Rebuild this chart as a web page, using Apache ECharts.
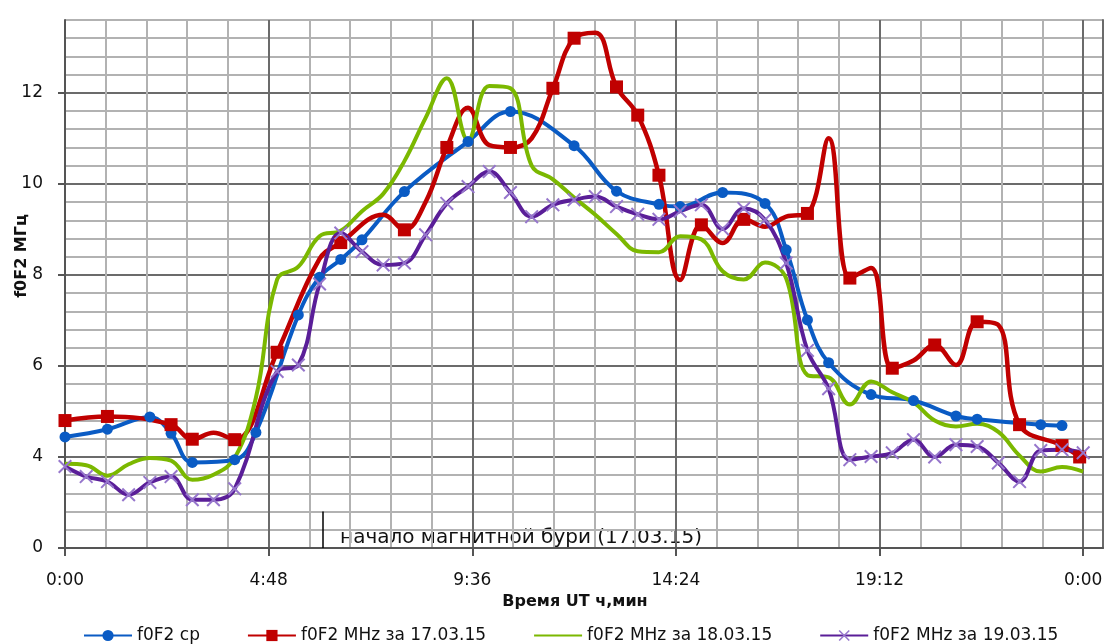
<!DOCTYPE html>
<html>
<head>
<meta charset="utf-8">
<script src="https://cdn.jsdelivr.net/npm/echarts@6/dist/echarts.min.js"></script>
<style>
html, body { margin: 0; padding: 0; background: #fff; }
#chart { width: 1108px; height: 644px; }
</style>
</head>
<body>
<div id="chart"></div>
<script>
// time is in minutes UT, values are f0F2 in MHz
var avgTime = [0, 60, 120, 150, 180, 240, 270, 330, 360, 390, 420, 480, 570, 630, 720, 780, 840, 870, 930, 990, 1020, 1050, 1080, 1140, 1200, 1260, 1290, 1380, 1410];
var avgVal  = [4.44, 4.61, 4.88, 4.52, 3.88, 3.94, 4.54, 7.12, 7.95, 8.34, 8.77, 9.83, 10.93, 11.59, 10.84, 9.84, 9.55, 9.50, 9.81, 9.57, 8.55, 7.01, 6.07, 5.37, 5.24, 4.90, 4.83, 4.71, 4.69];

var d17Time = [0, 60, 150, 180, 210, 240, 300, 360, 390, 450, 480, 510, 540, 570, 600, 630, 660, 690, 720, 750, 780, 810, 840, 870, 900, 930, 960, 990, 1020, 1050, 1080, 1110, 1140, 1170, 1200, 1230, 1260, 1290, 1320, 1350, 1410, 1435];
var d17Val  = [4.80, 4.89, 4.71, 4.39, 4.53, 4.38, 6.30, 8.35, 8.71, 9.32, 8.99, 9.60, 10.80, 11.67, 10.85, 10.80, 11.00, 12.10, 13.20, 13.32, 12.13, 11.51, 10.19, 7.89, 9.10, 8.70, 9.22, 9.06, 9.28, 9.35, 11.00, 7.93, 8.15, 5.95, 6.12, 6.46, 6.02, 6.97, 6.90, 4.71, 4.25, 4.00];
// points of 17.03 that have no marker in the picture
var d17NoMark = [210, 360, 450, 510, 570, 600, 660, 750, 870, 930, 990, 1020, 1080, 1140, 1200, 1260, 1320];

var d18Time = [0, 30, 60, 90, 120, 150, 180, 210, 240, 270, 300, 330, 360, 390, 420, 450, 480, 510, 540, 570, 600, 630, 660, 690, 720, 750, 780, 810, 840, 870, 900, 930, 960, 990, 1020, 1050, 1080, 1110, 1140, 1170, 1200, 1230, 1260, 1290, 1320, 1350, 1380, 1410, 1440];
var d18Val  = [3.85, 3.82, 3.59, 3.84, 3.98, 3.92, 3.50, 3.61, 3.98, 5.30, 7.90, 8.18, 8.85, 8.97, 9.40, 9.78, 10.50, 11.45, 12.32, 10.96, 12.15, 12.10, 10.40, 10.10, 9.70, 9.32, 8.90, 8.52, 8.50, 8.85, 8.78, 8.08, 7.90, 8.27, 7.92, 5.80, 5.75, 5.15, 5.66, 5.42, 5.20, 4.80, 4.67, 4.73, 4.55, 4.03, 3.68, 3.78, 3.68];

var d19Time = [0, 30, 60, 90, 120, 150, 180, 210, 240, 300, 330, 360, 390, 420, 450, 480, 510, 540, 570, 600, 630, 660, 690, 720, 750, 780, 810, 840, 870, 900, 930, 960, 990, 1020, 1050, 1080, 1110, 1140, 1170, 1200, 1230, 1260, 1290, 1320, 1350, 1380, 1410, 1440];
var d19Val  = [3.79, 3.57, 3.46, 3.17, 3.44, 3.57, 3.06, 3.06, 3.30, 5.88, 6.02, 7.80, 8.92, 8.51, 8.22, 8.26, 8.88, 9.57, 9.94, 10.27, 9.81, 9.28, 9.54, 9.65, 9.72, 9.50, 9.33, 9.22, 9.40, 9.54, 9.01, 9.46, 9.21, 8.26, 6.34, 5.50, 3.94, 4.01, 4.09, 4.38, 4.00, 4.27, 4.23, 3.87, 3.46, 4.14, 4.16, 4.09];

var names = ['f0F2 ср', 'f0F2 MHz за 17.03.15', 'f0F2 MHz за 18.03.15', 'f0F2 MHz за 19.03.15'];

// labelled ticks
var xTicks = [0, 288, 576, 864, 1152, 1440];
var yTicks = [2, 4, 6, 8, 10, 12];

var stormTime = 365;   // start of magnetic storm marker
var noteText = 'начало магнитной бури (17.03.15)';
var noteAt = [389, 2.22];

var xMax = 1468, yMin = 2, yMax = 13.6;
var major = '#6b6b6b', minor = '#b2b2b2', axisCol = '#555';
var font = '"DejaVu Sans", sans-serif';

function pairs(ts, vs) {
    return ts.map(function (t, i) { return [t, vs[i]]; });
}
function hm(v) {
    var m = Math.round(v) % 1440;
    var mm = m % 60;
    return Math.floor(m / 60) + ':' + (mm < 10 ? '0' : '') + mm;
}
function isTick(list, v) {
    return list.some(function (t) { return Math.abs(t - v) < 1e-6; });
}

var chart = echarts.init(document.getElementById('chart'), null, { renderer: 'canvas' });

var option = {
    animation: false,
    backgroundColor: '#fff',
    grid: { left: 65, right: 5, top: 20, bottom: 96, outerBoundsMode: 'none' },
    legend: {
        left: 78, top: 622,
        itemWidth: 48, itemHeight: 14, itemGap: 47,
        textStyle: { fontFamily: font, fontSize: 17, color: '#111' },
        data: [
            { name: names[0] },
            { name: names[1] },
            { name: names[2], itemStyle: { opacity: 0 } },
            { name: names[3] }
        ]
    },
    xAxis: [
        {   // grid lines every 57.6 min
            type: 'value', position: 'bottom', min: 0, max: xMax, interval: 57.6,
            axisLabel: { show: false }, axisTick: { show: false },
            axisLine: { show: true, onZero: false, lineStyle: { color: axisCol, width: 2 } },
            splitLine: { show: true, showMaxLine: false, lineStyle: { color: [major, minor, minor, minor, minor], width: 2 } }
        },
        {   // labels and ticks
            type: 'value', position: 'bottom', min: 0, max: xMax, interval: 288,
            axisLine: { show: false, onZero: false }, splitLine: { show: false },
            axisTick: { show: true, length: 8, customValues: xTicks, lineStyle: { color: axisCol, width: 2 } },
            axisLabel: {
                margin: 24, color: '#111', fontFamily: font, fontSize: 17, customValues: xTicks,
                formatter: function (v) { return isTick(xTicks, v) ? hm(v) : ''; }
            },
            name: 'Время UT ч,мин', nameLocation: 'middle', nameGap: 44,
            nameTextStyle: { fontFamily: font, fontSize: 16, fontWeight: 'bold', color: '#111', padding: [0, 18, 0, 0] }
        }
    ],
    yAxis: [
        {   // grid lines every 0.4
            type: 'value', position: 'left', min: yMin, max: yMax, interval: 0.4,
            axisLabel: { show: false }, axisTick: { show: false },
            axisLine: { show: true, lineStyle: { color: axisCol, width: 2 } },
            splitLine: { show: true, lineStyle: { color: [major, minor, minor, minor, minor], width: 2 } }
        },
        {   // labels and ticks
            type: 'value', position: 'left', min: yMin, max: yMax, interval: 2,
            axisLine: { show: false }, splitLine: { show: false },
            axisTick: { show: true, length: 7, customValues: yTicks, lineStyle: { color: axisCol, width: 2 } },
            axisLabel: {
                margin: 22, color: '#111', fontFamily: font, fontSize: 17, customValues: yTicks,
                formatter: function (v) {
                    if (!isTick(yTicks, v)) return '';
                    return v === yMin ? '0' : String(Math.round(v));
                }
            }
        },
        {   // right edge of the plot
            type: 'value', position: 'right', min: yMin, max: yMax,
            axisLine: { show: true, lineStyle: { color: major, width: 2 } },
            axisLabel: { show: false }, axisTick: { show: false }, splitLine: { show: false }
        }
    ],
    series: [
        {
            name: names[0], type: 'line', smooth: 0.4,
            data: pairs(avgTime, avgVal),
            symbol: 'circle', symbolSize: 11,
            lineStyle: { width: 4, color: '#0a5bc4' },
            itemStyle: { color: '#0a5bc4' },
            markLine: {
                silent: true, symbol: ['none', 'none'], label: { show: false },
                lineStyle: { color: '#000', width: 1.5, type: 'solid' },
                data: [[{ coord: [stormTime, yMin] }, { coord: [stormTime, 2.8] }]]
            }
        },
        {
            name: names[1], type: 'line', smooth: 0.4,
            data: d17Time.map(function (t, i) {
                var item = { value: [t, d17Val[i]] };
                if (d17NoMark.indexOf(t) >= 0) item.symbol = 'none';
                return item;
            }),
            symbol: 'rect', symbolSize: 13,
            lineStyle: { width: 4.5, color: '#c00000' },
            itemStyle: { color: '#c00000' }
        },
        {
            name: names[2], type: 'line', smooth: 0.4,
            data: pairs(d18Time, d18Val),
            symbol: 'none',
            lineStyle: { width: 4, color: '#7bb800' },
            itemStyle: { color: '#7bb800' }
        },
        {
            name: names[3], type: 'line', smooth: 0.4,
            data: pairs(d19Time, d19Val),
            symbol: 'path://M0,1L1,0L5,4L9,0L10,1L6,5L10,9L9,10L5,6L1,10L0,9L4,5Z',
            symbolSize: 14,
            lineStyle: { width: 4, color: '#5a1e98' },
            itemStyle: { color: '#9676cc' }
        }
    ],
    graphic: [
        {
            type: 'text', x: 22, y: 256, rotation: Math.PI / 2,
            style: {
                text: 'f0F2 МГц', font: 'bold 16px ' + font, fill: '#111',
                align: 'center', verticalAlign: 'middle', textAlign: 'center', textVerticalAlign: 'middle'
            }
        }
    ]
};

chart.setOption(option);

var p = chart.convertToPixel({ seriesIndex: 0 }, noteAt);
chart.setOption({
    graphic: [
        option.graphic[0],
        {
            type: 'text', x: p[0], y: p[1],
            style: {
                text: noteText, font: '20px ' + font, fill: '#111',
                align: 'left', verticalAlign: 'middle', textAlign: 'left', textVerticalAlign: 'middle'
            }
        }
    ]
});
</script>
</body>
</html>
